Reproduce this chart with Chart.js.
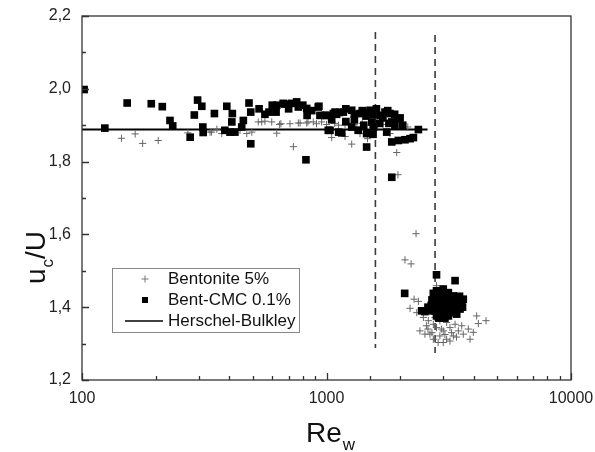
<!DOCTYPE html>
<html>
<head>
<meta charset="utf-8">
<script src="https://cdn.jsdelivr.net/npm/chart.js@4.4.1/dist/chart.umd.min.js"></script>
<style>
  html, body { margin: 0; padding: 0; background: #fff; }
</style>
</head>
<body>
<canvas id="grafico" width="595" height="452"></canvas>
<script>
// Bentonite 5% (cruces)
const bentRe = [145, 165, 177, 205, 271, 334, 339, 356, 373, 397, 416, 443, 472, 495, 526, 543, 560, 597, 626, 643,
  651, 709, 732, 767, 780, 830, 840, 883, 910, 955, 1000, 1050, 1080, 1120, 1191, 1191, 1230, 1268, 1300, 1330,
  1371, 1400, 1471, 1500, 1560, 1620, 1700, 1819, 1900, 1937, 1960, 2050, 2150, 2324, 2094, 2218,
  2281, 2376, 2197, 2340, 2490, 2609, 2735, 2411, 2527, 2649, 2735, 2818, 2909, 3003, 3100, 3199, 3302, 3461,
  3626, 3802, 3865, 3985, 4113, 4178, 4492, 2909, 3100, 3356, 3573, 2777, 2562, 2862, 3003, 3199, 2818, 2818,
  2700, 2950, 3050, 3250, 3400, 2600];
const bentU = [1.864, 1.876, 1.850, 1.858, 1.879, 1.881, 1.881, 1.889, 1.877, 1.881, 1.881, 1.886, 1.877, 1.881, 1.909, 1.909, 1.911, 1.909, 1.878, 1.902,
  1.904, 1.904, 1.841, 1.906, 1.906, 1.906, 1.909, 1.909, 1.904, 1.909, 1.902, 1.866, 1.905, 1.900, 1.869, 1.900, 1.906, 1.848, 1.903, 1.895,
  1.877, 1.905, 1.863, 1.900, 1.905, 1.898, 1.902, 1.877, 1.900, 1.825, 1.764, 1.905, 1.895, 1.602, 1.530, 1.519,
  1.422, 1.416, 1.397, 1.385, 1.372, 1.363, 1.353, 1.335, 1.326, 1.326, 1.312, 1.344, 1.321, 1.335, 1.312, 1.344, 1.321, 1.335,
  1.326, 1.340, 1.312, 1.331, 1.376, 1.355, 1.363, 1.363, 1.358, 1.353, 1.349, 1.372, 1.349, 1.303, 1.303, 1.307, 1.459, 1.399,
  1.330, 1.340, 1.325, 1.330, 1.318, 1.340];

// Bent-CMC 0.1% (cuadrados)
const cmcRe = [102, 124, 153, 192, 213, 229, 235, 277, 288, 297, 309, 312, 313, 348, 384, 391, 403, 410, 412, 422,
  450, 457, 482, 490, 490, 582, 622, 626, 665, 676, 755, 767, 824, 830, 833, 925, 931, 940, 986, 1000,
  1017, 1033, 1067, 1084, 1121, 1154, 1172, 1268, 1268, 1347, 1371, 1459, 1459, 1507, 1507, 1531, 1656, 1735, 1763, 1819,
  1849, 1849, 1849, 1905, 1967, 1967, 2094, 2197, 2267, 2376,
  530, 560, 600, 700, 720, 800, 870, 1050, 1100, 1130, 1200, 1200, 1300, 1300, 1400, 1420, 1450, 1550, 1560, 1550,
  1600, 1650, 1700, 1780, 1800, 1900, 2000, 2050,
  2088, 2818, 3356, 2450, 2527, 2649, 2735, 2735, 2777, 2777, 2818, 2818, 2862, 2909, 2909, 2958, 2958, 3003, 3003, 3055,
  3100, 3152, 3152, 3199, 3250, 3302, 3356, 3408, 3408, 3517, 3573, 3626,
  2600, 2680, 2700, 2800, 2850, 2880, 2900, 2950, 3000, 3050, 3050, 3100, 3150, 3200, 3250, 3300, 3350, 3450, 3500, 3600];
const cmcU = [1.998, 1.892, 1.961, 1.959, 1.951, 1.913, 1.898, 1.867, 1.928, 1.969, 1.952, 1.895, 1.880, 1.932, 1.886, 1.952, 1.881, 1.909, 1.932, 1.881,
  1.895, 1.913, 1.961, 1.936, 1.849, 1.936, 1.936, 1.955, 1.960, 1.958, 1.964, 1.950, 1.805, 1.946, 1.927, 1.950, 1.952, 1.927, 1.927, 1.927,
  1.886, 1.886, 1.932, 1.936, 1.881, 1.879, 1.936, 1.941, 1.895, 1.886, 1.932, 1.877, 1.840, 1.936, 1.941, 1.909, 1.927, 1.936, 1.881, 1.932,
  1.909, 1.854, 1.757, 1.900, 1.918, 1.858, 1.860, 1.863, 1.866, 1.888,
  1.945, 1.930, 1.955, 1.945, 1.960, 1.955, 1.940, 1.915, 1.930, 1.935, 1.945, 1.910, 1.930, 1.915, 1.940, 1.900, 1.925, 1.930, 1.895, 1.875,
  1.945, 1.905, 1.920, 1.940, 1.905, 1.930, 1.920, 1.900,
  1.438, 1.489, 1.473, 1.390, 1.388, 1.390, 1.438, 1.399, 1.413, 1.390, 1.445, 1.376, 1.422, 1.404, 1.427, 1.436, 1.381, 1.450, 1.413, 1.395,
  1.427, 1.399, 1.376, 1.418, 1.385, 1.431, 1.404, 1.427, 1.381, 1.395, 1.418, 1.422,
  1.400, 1.405, 1.420, 1.430, 1.405, 1.370, 1.390, 1.420, 1.385, 1.430, 1.370, 1.410, 1.440, 1.395, 1.410, 1.420, 1.390, 1.410, 1.430, 1.400];

// Herschel-Bulkley
const hbRe = [100, 2590];
const hbU = [1.888, 1.888];

// lineas de transicion (discontinuas)
const transRe = [1585, 2780];
const transArriba = [2.156, 2.148];
const transAbajo = [1.288, 1.274];

const xEtiquetas = [100, 1000, 10000];
const yMin = 1.2, yMax = 2.2;

const fuente = '"Liberation Sans", Arial, sans-serif';

const puntos = (xs, ys) => xs.map((x, i) => ({ x: x, y: ys[i] }));

const esMayorY = v => Math.abs(v * 5 - Math.round(v * 5)) < 1e-6;

// marco completo, marcas hacia dentro, titulos con subindice y leyenda
const decoracion = {
  id: 'decoracion',
  afterDraw(chart) {
    const ctx = chart.ctx;
    const a = chart.chartArea;
    const xs = chart.scales.x, ys = chart.scales.y;
    ctx.save();
    ctx.strokeStyle = '#333';
    ctx.lineWidth = 1.3;
    ctx.strokeRect(a.left, a.top, a.right - a.left, a.bottom - a.top);

    ctx.beginPath();
    xs.ticks.forEach(t => {
      const px = Math.round(xs.getPixelForValue(t.value)) + 0.5;
      const mayor = xEtiquetas.includes(t.value);
      ctx.moveTo(px, a.bottom);
      ctx.lineTo(px, a.bottom - (mayor ? 7 : 4));
    });
    ys.ticks.forEach(t => {
      const py = Math.round(ys.getPixelForValue(t.value)) + 0.5;
      ctx.moveTo(a.left, py);
      ctx.lineTo(a.left + (esMayorY(t.value) ? 7 : 4), py);
    });
    ctx.stroke();

    // Re_w
    ctx.fillStyle = '#111';
    ctx.textBaseline = 'alphabetic';
    ctx.font = '28px ' + fuente;
    const wRe = ctx.measureText('Re').width;
    ctx.font = '17px ' + fuente;
    const wW = ctx.measureText('w').width;
    let x0 = 330 - (wRe + wW) / 2;
    ctx.font = '28px ' + fuente;
    ctx.fillText('Re', x0, 442);
    ctx.font = '17px ' + fuente;
    ctx.fillText('w', x0 + wRe + 1, 450);

    // u_c/U
    ctx.save();
    ctx.translate(45, 258);
    ctx.rotate(-Math.PI / 2);
    ctx.font = '28px ' + fuente;
    const wu = ctx.measureText('u').width;
    const wU = ctx.measureText('/U').width;
    ctx.font = '17px ' + fuente;
    const wc = ctx.measureText('c').width;
    x0 = -(wu + wc + wU) / 2;
    ctx.font = '28px ' + fuente;
    ctx.fillText('u', x0, 0);
    ctx.font = '17px ' + fuente;
    ctx.fillText('c', x0 + wu + 1, 8);
    ctx.font = '28px ' + fuente;
    ctx.fillText('/U', x0 + wu + wc + 1, 0);
    ctx.restore();

    // leyenda
    ctx.strokeStyle = '#888';
    ctx.lineWidth = 1;
    ctx.strokeRect(112.5, 268.5, 187, 64);
    ctx.font = '17px ' + fuente;
    ctx.textBaseline = 'middle';
    ctx.fillStyle = '#111';
    const filas = [279, 300, 321];
    ctx.fillText('Bentonite 5%', 168, filas[0]);
    ctx.fillText('Bent-CMC 0.1%', 168, filas[1]);
    ctx.fillText('Herschel-Bulkley', 168, filas[2]);
    ctx.strokeStyle = '#777';
    ctx.beginPath();
    ctx.moveTo(145, filas[0] - 3.5); ctx.lineTo(145, filas[0] + 3.5);
    ctx.moveTo(141.5, filas[0]); ctx.lineTo(148.5, filas[0]);
    ctx.stroke();
    ctx.fillStyle = '#000';
    ctx.fillRect(142, filas[1] - 3, 6, 6);
    ctx.strokeStyle = '#000';
    ctx.lineWidth = 1.5;
    ctx.beginPath();
    ctx.moveTo(125, filas[2]); ctx.lineTo(163, filas[2]);
    ctx.stroke();
    ctx.restore();
  }
};

const lineaTrans = i => ({
  label: 'trans' + i,
  data: [{ x: transRe[i], y: transArriba[i] }, { x: transRe[i], y: transAbajo[i] }],
  showLine: true,
  borderColor: '#3a3a3a',
  borderWidth: 1.6,
  borderDash: [7, 5],
  pointRadius: 0,
  order: 3
});

new Chart(document.getElementById('grafico'), {
  type: 'scatter',
  data: {
    datasets: [
      {
        label: 'Bent-CMC 0.1%',
        data: puntos(cmcRe, cmcU),
        pointStyle: 'rect',
        pointRadius: 5.4,
        backgroundColor: '#000',
        borderColor: '#000',
        borderWidth: 0,
        order: 0
      },
      {
        label: 'Bentonite 5%',
        data: puntos(bentRe, bentU),
        pointStyle: 'cross',
        pointRadius: 3.6,
        borderColor: '#666',
        borderWidth: 1,
        order: 1
      },
      {
        label: 'Herschel-Bulkley',
        data: puntos(hbRe, hbU),
        showLine: true,
        borderColor: '#000',
        borderWidth: 2,
        pointRadius: 0,
        order: 2
      },
      lineaTrans(0),
      lineaTrans(1)
    ]
  },
  options: {
    responsive: false,
    animation: false,
    devicePixelRatio: 1,
    layout: { padding: { top: 16, right: 24, left: 0, bottom: 0 } },
    plugins: { legend: { display: false }, tooltip: { enabled: false } },
    scales: {
      x: {
        type: 'logarithmic',
        min: 100,
        max: 10000,
        grid: { display: false, drawTicks: false },
        border: { display: false },
        ticks: {
          autoSkip: false,
          maxRotation: 0,
          padding: 9,
          color: '#222',
          font: { family: fuente, size: 16 },
          callback: v => xEtiquetas.includes(v) ? String(v) : ''
        },
        afterFit: s => { s.height = 72; s.paddingLeft = 0; s.paddingRight = 0; }
      },
      y: {
        min: yMin,
        max: yMax,
        grid: { display: false, drawTicks: false },
        border: { display: false },
        ticks: {
          stepSize: 0.1,
          autoSkip: false,
          padding: 11,
          color: '#222',
          font: { family: fuente, size: 16 },
          callback: v => esMayorY(v) ? v.toFixed(1).replace('.', ',') : ''
        },
        afterFit: s => { s.width = 82; s.paddingTop = 0; s.paddingBottom = 0; }
      }
    }
  },
  plugins: [decoracion]
});
</script>
</body>
</html>
